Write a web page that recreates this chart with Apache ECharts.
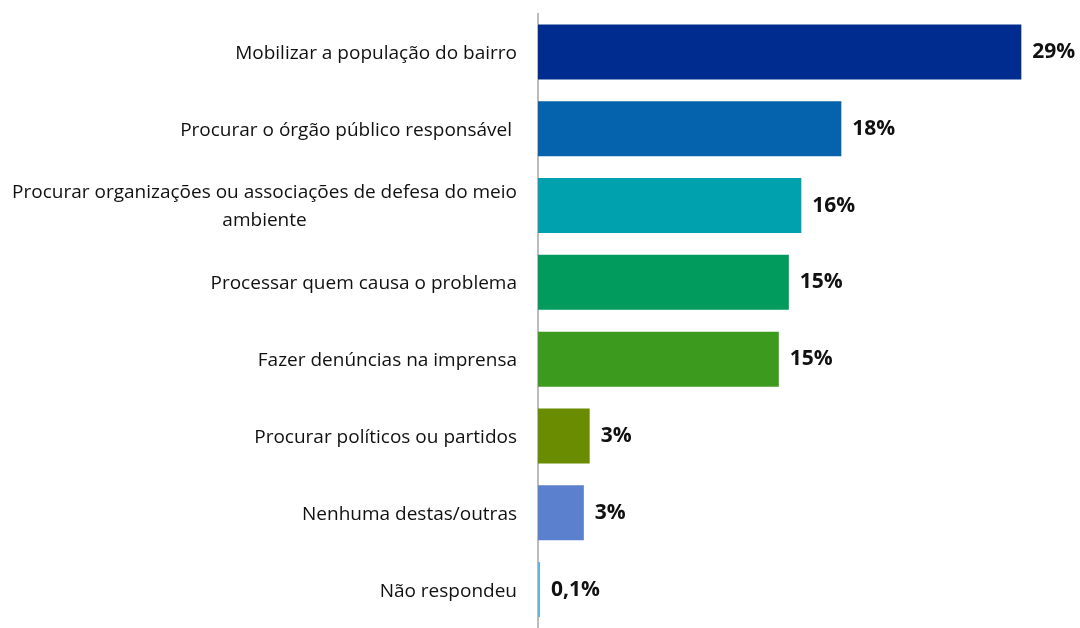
<!DOCTYPE html>
<html lang="pt">
  <head>
    <meta charset="UTF-8" />
    <title>Chart</title>
    <script src="https://cdn.jsdelivr.net/npm/echarts@6/dist/echarts.min.js"></script>
    <style>
      html, body { margin: 0; padding: 0; background: #fff; }
    </style>
  </head>
  <body>
    <div id="chart" style="width: 1080px; height: 628px"></div>
    <script>
      const categories = [
        'Mobilizar a população do bairro',
        'Procurar o órgão público responsável ',
        'Procurar organizações ou associações de defesa do meio\nambiente',
        'Processar quem causa o problema',
        'Fazer denúncias na imprensa',
        'Procurar políticos ou partidos',
        'Nenhuma destas/outras',
        'Não respondeu'
      ];
      const values = [29, 18.2, 15.8, 15.05, 14.45, 3.1, 2.75, 0.12];
      const valueLabels = ['29%', '18%', '16%', '15%', '15%', '3%', '3%', '0,1%'];
      const barColors = ['#002B8F', '#0563AE', '#00A1AE', '#009B5D', '#3C9A1E', '#6A8C00', '#5B80CE', '#5DB4E6'];

      let myChart = echarts.init(document.getElementById('chart'));
      let option = {
        animation: false,
        grid: {
          left: 538,
          top: 13.5,
          width: 500,
          height: 623
        },
        xAxis: {
          type: 'value',
          min: 0,
          max: 30,
          show: false
        },
        yAxis: {
          type: 'category',
          inverse: true,
          data: categories,
          axisLine: { lineStyle: { color: '#A6A6A6', width: 1.5 } },
          axisTick: { show: false },
          axisLabel: {
            margin: 21,
            align: 'right',
            color: '#111',
            fontFamily: 'Open Sans',
            fontSize: 19,
            lineHeight: 28,
            formatter: function (v) {
              return '{c|' + v + '}';
            },
            rich: {
              c: { align: 'center', color: '#111', fontFamily: 'Open Sans', fontSize: 19, lineHeight: 28, padding: [3, 0, 0, 0] }
            }
          }
        },
        series: [
          {
            type: 'bar',
            barWidth: 55,
            data: values.map(function (v, i) {
              return { value: v, itemStyle: { color: barColors[i] } };
            }),
            label: {
              show: true,
              position: 'right',
              distance: 11,
              color: '#111',
              fontFamily: 'Open Sans',
              fontWeight: 'bold',
              fontSize: 21,
              formatter: function (p) {
                return valueLabels[p.dataIndex];
              }
            }
          }
        ]
      };
      myChart.setOption(option);
    </script>
  </body>
</html>
